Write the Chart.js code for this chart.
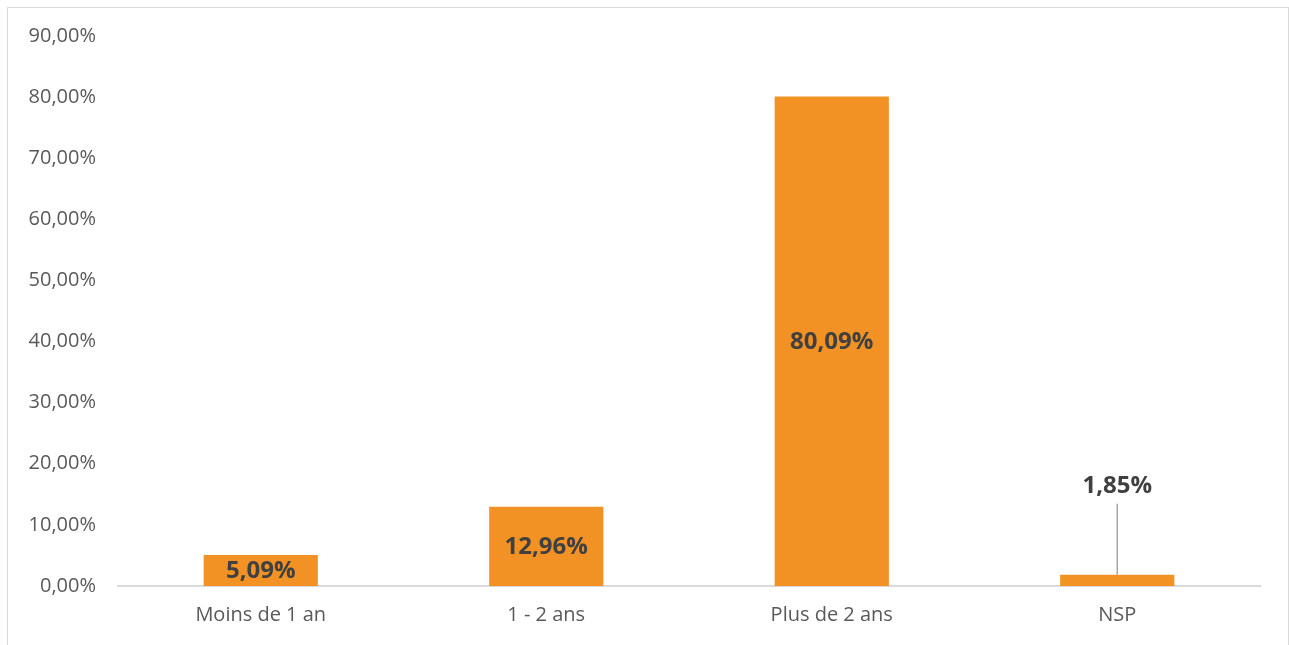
<!DOCTYPE html>
<html>
<head>
<meta charset="utf-8">
<script src="https://cdn.jsdelivr.net/npm/chart.js@4.4.1/dist/chart.umd.min.js"></script>
<style>
  html, body { margin: 0; padding: 0; background: #fff; overflow: hidden; }
  #wrap {
    position: absolute; left: 7px; top: 7px;
    width: 1280px; height: 660px;
    border: 1px solid #d9d9d9;
  }
  #box { position: absolute; left: 0; top: 0; width: 1280px; height: 637px; }
</style>
</head>
<body>
<div id="wrap"><div id="box"><canvas id="mycanvas"></canvas></div></div>
<script>
var categories = ['Moins de 1 an', '1 - 2 ans', 'Plus de 2 ans', 'NSP'];
var values = [5.09, 12.96, 80.09, 1.85];
var yTicks = [0, 10, 20, 30, 40, 50, 60, 70, 80, 90];

function fmt(v) {
    return v.toFixed(2).replace('.', ',') + '%';
}

// data labels: inside the bar when it fits, above with a leader line otherwise
var barLabels = {
    id: 'barLabels',
    afterDatasetsDraw: function(chart) {
        var ctx = chart.ctx;
        var meta = chart.getDatasetMeta(0);
        ctx.save();
        ctx.font = 'bold 24px "Open Sans", sans-serif';
        ctx.fillStyle = '#404040';
        ctx.textAlign = 'center';
        ctx.textBaseline = 'middle';
        meta.data.forEach(function(bar, i) {
            var h = bar.base - bar.y;
            if (h > 25) {
                ctx.fillText(fmt(values[i]), bar.x, (bar.y + bar.base) / 2 + 1);
            } else {
                var ly = bar.y - 89;
                ctx.strokeStyle = '#a6a6a6';
                ctx.lineWidth = 1.5;
                ctx.beginPath();
                ctx.moveTo(bar.x, ly + 18);
                ctx.lineTo(bar.x, bar.y);
                ctx.stroke();
                ctx.fillText(fmt(values[i]), bar.x, ly);
            }
        });
        ctx.restore();
    }
};

var ctx = document.getElementById('mycanvas');
var barGraph = new Chart(ctx, {
    type: 'bar',
    data: {
        labels: categories,
        datasets: [{
            data: values,
            backgroundColor: '#f39224',
            borderWidth: 0,
            barPercentage: 0.4,
            categoryPercentage: 1.0
        }]
    },
    options: {
        responsive: true,
        maintainAspectRatio: false,
        animation: false,
        layout: { padding: { top: 28, right: 28, left: 0, bottom: 0 } },
        plugins: {
            legend: { display: false },
            tooltip: { enabled: false }
        },
        scales: {
            x: {
                grid: { display: false, drawTicks: false },
                border: { display: true, color: '#d9d9d9', width: 2 },
                ticks: {
                    color: '#595959',
                    font: { family: '"Open Sans", sans-serif', size: 20 },
                    padding: 17
                },
                afterFit: function(scale) { scale.height = 59; }
            },
            y: {
                min: 0,
                max: 90,
                grid: { display: false, drawTicks: false },
                border: { display: false },
                afterBuildTicks: function(scale) {
                    scale.ticks = yTicks.map(function(v) { return { value: v }; });
                },
                ticks: {
                    color: '#595959',
                    font: { family: '"Open Sans", sans-serif', size: 20 },
                    padding: 22,
                    callback: function(v) { return fmt(v); }
                },
                afterFit: function(scale) {
                    scale.width = 110;
                    scale.paddingTop = 0;
                    scale.paddingBottom = 0;
                }
            }
        }
    },
    plugins: [barLabels]
});
</script>
</body>
</html>
